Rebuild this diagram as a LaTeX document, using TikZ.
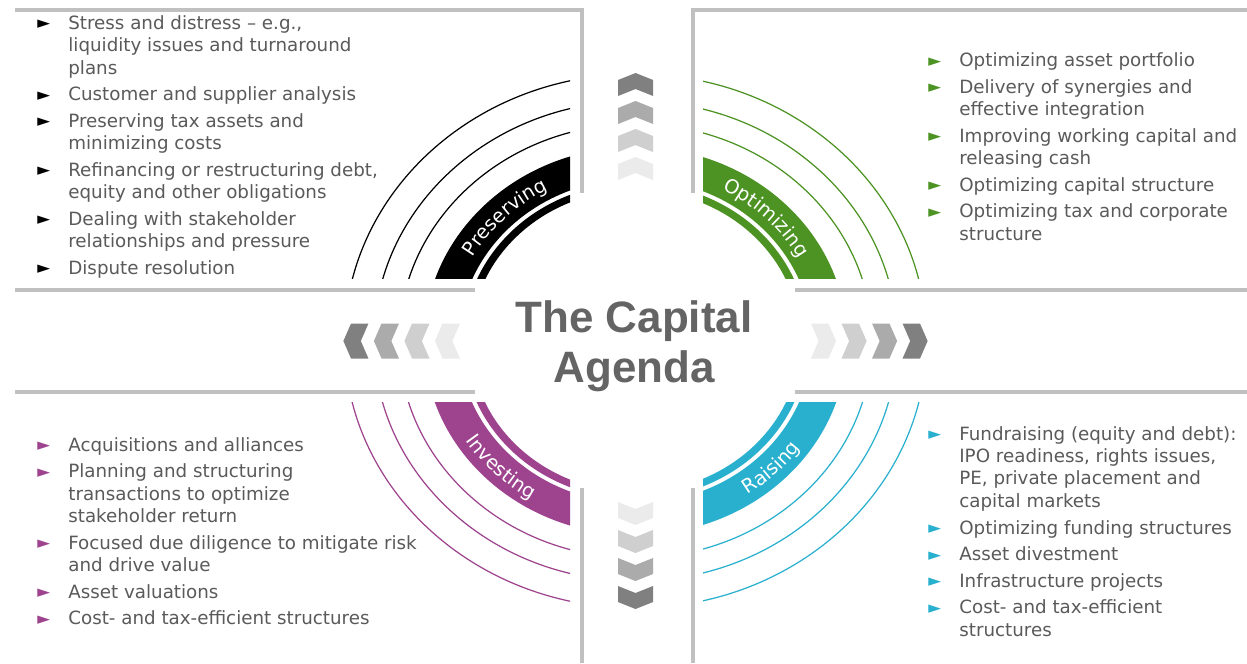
\documentclass[tikz,border=0pt]{standalone}
\usepackage{fontspec}
\setmainfont{DejaVu Sans}
\newfontfamily\titlefont{Liberation Sans}
\usepackage{xcolor}
\usepackage{tikz}
\usetikzlibrary{calc,decorations.text}

\definecolor{capgreen}{RGB}{76,147,35}
\definecolor{cappurple}{RGB}{158,68,142}
\definecolor{capcyan}{RGB}{41,176,206}
\definecolor{captext}{RGB}{90,90,90}
\definecolor{captitle}{RGB}{100,100,100}
\definecolor{capframe}{RGB}{192,192,192}

\newcommand\capbullet[1]{\textcolor{#1}{\raisebox{0.05ex}{\fontsize{9.5}{9.5}\selectfont ►}}}
\newcommand\bandfont{\fontsize{11}{13}\selectfont}

\tikzset{
  listbox/.style={anchor=base west, inner sep=0pt, text=captext,
    font=\fontsize{10.4}{12.8}\selectfont},
  frame/.style={capframe, line width=2.3pt},
}

\begin{document}
\begin{tikzpicture}[x=0.02cm, y=0.02cm]
      \useasboundingbox (0,-663) rectangle (1247,0);
      \fill [white] (0,-663) rectangle (1247,0);
      \coordinate (O) at (635.5,-341);
      \def\sx{1.09}

      % quadrant frames
      \draw [frame] (15,-10) -- (582,-10) -- (582,-193);
      \draw [frame] (15,-290) -- (475,-290);
      \draw [frame] (693,-193) -- (693,-10) -- (1247,-10);
      \draw [frame] (795,-290) -- (1247,-290);
      \draw [frame] (15,-392) -- (475,-392);
      \draw [frame] (582,-488) -- (582,-663);
      \draw [frame] (795,-392) -- (1247,-392);
      \draw [frame] (693,-488) -- (693,-663);

      % arcs and bands
      \foreach \c/\xa/\ya/\xb/\yb in {black/0/-278/570/0, capgreen/703/-278/1247/0,
                                      cappurple/0/-663/570/-402, capcyan/703/-663/1247/-402}
      {
        \begin{scope}
          \clip (\xa,\ya) rectangle (\xb,\yb);
          \foreach \r in {217,240,267}
            \draw [\c, line width=0.7pt] (O) ellipse [x radius=\sx*\r, y radius=\r];
          \fill [\c, even odd rule] (O) ellipse [x radius=\sx*194, y radius=194]
                                    (O) ellipse [x radius=\sx*162, y radius=162];
          \fill [\c, even odd rule] (O) ellipse [x radius=\sx*158, y radius=158]
                                    (O) ellipse [x radius=\sx*151, y radius=151];
        \end{scope}
      }

      \path [decorate, decoration={text along path, text align=center, text color=white,
             text={|\bandfont|Preserving}}]
        ($(O)+(170:186.4 and 171)$) arc [start angle=170, end angle=100, x radius=186.4, y radius=171];
      \path [decorate, decoration={text along path, text align=center, text color=white,
             text={|\bandfont|Optimizing}}]
        ($(O)+(80:186.4 and 171)$) arc [start angle=80, end angle=10, x radius=186.4, y radius=171];
      \path [decorate, decoration={text along path, text align=center, text color=white,
             text={|\bandfont|Investing}}]
        ($(O)+(190:201.7 and 185)$) arc [start angle=190, end angle=260, x radius=201.7, y radius=185];
      \path [decorate, decoration={text along path, text align=center, text color=white,
             text={|\bandfont|Raising}}]
        ($(O)+(280:201.7 and 185)$) arc [start angle=280, end angle=350, x radius=201.7, y radius=185];

      % chevrons
      \foreach \ang/\s in {0/1.09, 90/1, 180/1.09, 270/1}
        \foreach \d/\c in {268/black!50, 240/black!33, 212/black!19, 184/black!8}
          \fill [\c, shift={(O)}, xscale=\s, rotate=\ang, shift={(\d,0)}]
            (0,0) -- (-7,17.5) -- (-23,17.5) -- (-16,0) -- (-23,-17.5) -- (-7,-17.5) -- cycle;

      \node [font=\titlefont\bfseries\fontsize{25}{27.9}\selectfont, text=captitle,
             align=center, anchor=base] (title) at (634,-382) {The Capital\\Agenda};

      \node [listbox] (preserving) at (37,-29.3) {\begin{tabular}[t]{@{}p{0.62cm}@{}l@{}}
        \capbullet{black} & Stress and distress – e.g.,\\
                          & liquidity issues and turnaround\\
                          & plans\\[2.3pt]
        \capbullet{black} & Customer and supplier analysis\\[2.3pt]
        \capbullet{black} & Preserving tax assets and\\
                          & minimizing costs\\[2.3pt]
        \capbullet{black} & Refinancing or restructuring debt,\\
                          & equity and other obligations\\[2.3pt]
        \capbullet{black} & Dealing with stakeholder\\
                          & relationships and pressure\\[2.3pt]
        \capbullet{black} & Dispute resolution
      \end{tabular}};

      \node [listbox] (optimizing) at (928,-66.7) {\begin{tabular}[t]{@{}p{0.62cm}@{}l@{}}
        \capbullet{capgreen} & Optimizing asset portfolio\\[2.3pt]
        \capbullet{capgreen} & Delivery of synergies and\\
                             & effective integration\\[2.3pt]
        \capbullet{capgreen} & Improving working capital and\\
                             & releasing cash\\[2.3pt]
        \capbullet{capgreen} & Optimizing capital structure\\[2.3pt]
        \capbullet{capgreen} & Optimizing tax and corporate\\
                             & structure
      \end{tabular}};

      \node [listbox] (investing) at (37,-451) {\begin{tabular}[t]{@{}p{0.62cm}@{}l@{}}
        \capbullet{cappurple} & Acquisitions and alliances\\[2.3pt]
        \capbullet{cappurple} & Planning and structuring\\
                              & transactions to optimize\\
                              & stakeholder return\\[2.3pt]
        \capbullet{cappurple} & Focused due diligence to mitigate risk\\
                              & and drive value\\[2.3pt]
        \capbullet{cappurple} & Asset valuations\\[2.3pt]
        \capbullet{cappurple} & Cost- and tax-efficient structures
      \end{tabular}};

      \node [listbox] (raising) at (928,-440) {\begin{tabular}[t]{@{}p{0.62cm}@{}l@{}}
        \capbullet{capcyan} & Fundraising (equity and debt):\\
                            & IPO readiness, rights issues,\\
                            & PE, private placement and\\
                            & capital markets\\[2.3pt]
        \capbullet{capcyan} & Optimizing funding structures\\[2.3pt]
        \capbullet{capcyan} & Asset divestment\\[2.3pt]
        \capbullet{capcyan} & Infrastructure projects\\[2.3pt]
        \capbullet{capcyan} & Cost- and tax-efficient\\
                            & structures
      \end{tabular}};
    \end{tikzpicture}
\end{document}
